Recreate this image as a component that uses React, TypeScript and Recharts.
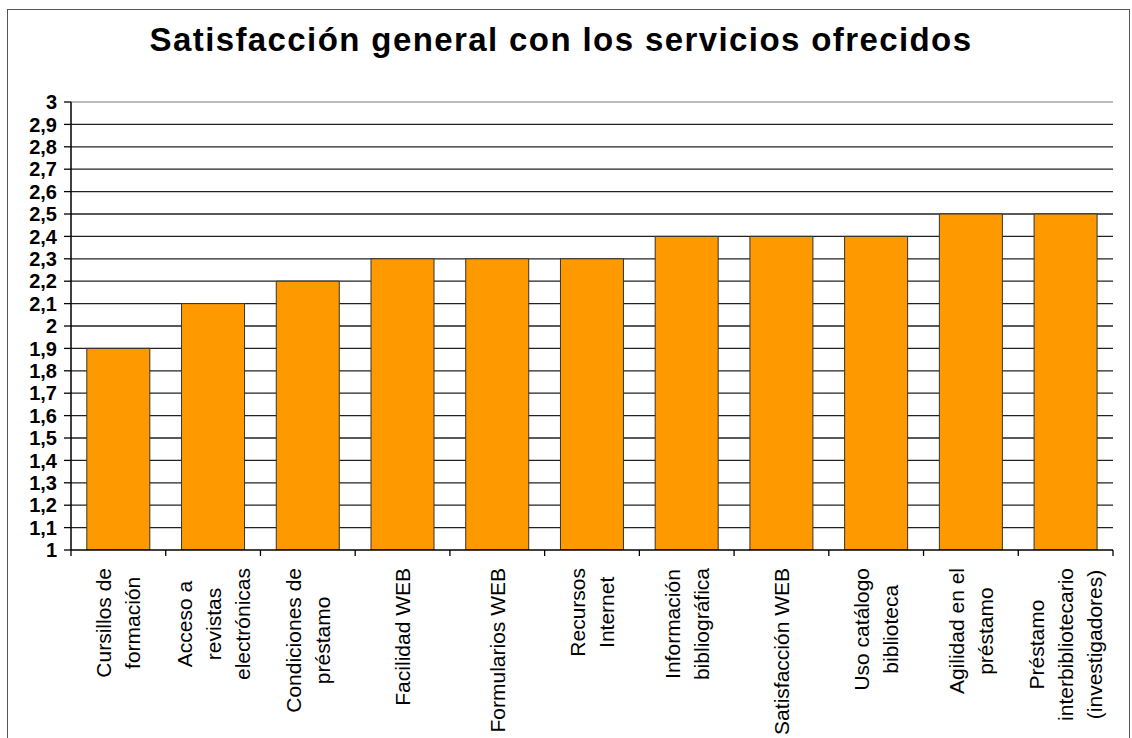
import React from "react";
import { BarChart, Bar, XAxis, YAxis, CartesianGrid, ReferenceLine } from "recharts";

const title = "Satisfacción general con los servicios ofrecidos";

const categories = [
  "Cursillos de\nformación",
  "Acceso a\nrevistas\nelectrónicas",
  "Condiciones de\npréstamo",
  "Facilidad WEB",
  "Formularios WEB",
  "Recursos\nInternet",
  "Información\nbibliográfica",
  "Satisfacción WEB",
  "Uso catálogo\nbiblioteca",
  "Agilidad en el\npréstamo",
  "Préstamo\ninterbibliotecario\n(investigadores)",
];

const values = [1.9, 2.1, 2.2, 2.3, 2.3, 2.3, 2.4, 2.4, 2.4, 2.5, 2.5];

const yTicks = [1, 1.1, 1.2, 1.3, 1.4, 1.5, 1.6, 1.7, 1.8, 1.9, 2, 2.1, 2.2, 2.3, 2.4, 2.5, 2.6, 2.7, 2.8, 2.9, 3];
const gridValues = yTicks.filter((v) => v !== 1 && v !== 3);

const data = categories.map((c, i) => ({ name: c, value: values[i] }));

const W = 1132;
const H = 738;
const MARGIN = { top: 102, right: 19, left: 0, bottom: 0 };
const Y_AXIS_W = 71;
const X_AXIS_H = H - 550;
const PLOT_W = W - MARGIN.left - MARGIN.right - Y_AXIS_W;
const BAND = PLOT_W / categories.length;

const LABEL_FONT = "21px 'Liberation Sans'";
let measureCtx: CanvasRenderingContext2D | null = null;
function measure(t: string): number {
  if (!measureCtx) {
    const c = document.createElement("canvas");
    measureCtx = c.getContext("2d");
  }
  if (!measureCtx) return t.length * 10;
  measureCtx.font = LABEL_FONT;
  return measureCtx.measureText(t).width;
}

const XTick = (props: any) => {
  const { x, y, payload, index } = props;
  const lines: string[] = String(payload.value).split("\n");
  const maxW = Math.max(...lines.map(measure));
  const n = lines.length;
  const spacing = 29;
  const top = 18;
  const left = x - BAND / 2;
  const right = x + BAND / 2;
  return (
    <g>
      <line x1={left} y1={y} x2={left} y2={y + 6} stroke="#000" strokeWidth={1.3} />
      {index === categories.length - 1 && (
        <line x1={right} y1={y} x2={right} y2={y + 6} stroke="#000" strokeWidth={1.3} />
      )}
      <g transform={`translate(${x},${y}) rotate(-90)`}>
        {lines.map((ln, i) => (
          <text
            key={i}
            x={-(top + maxW / 2)}
            y={(i - (n - 1) / 2) * spacing + 7.5}
            textAnchor="middle"
            fontFamily="'Liberation Sans', Arial, sans-serif"
            fontSize={21}
            fill="#000"
          >
            {ln}
          </text>
        ))}
      </g>
    </g>
  );
};

const fmt = (v: number) => String(v).replace(".", ",");

export default function App() {
  return (
    <div
      style={{
        position: "fixed",
        left: 0,
        top: 0,
        width: W,
        height: H,
        overflow: "hidden",
        background: "#fff",
      }}
    >
      <div
        style={{
          position: "absolute",
          left: 7,
          top: 9,
          width: 1123,
          height: 760,
          border: "1.5px solid #555",
          boxSizing: "border-box",
        }}
      />
      <svg style={{ position: "absolute", left: 0, top: 0 }} width={W} height={80}>
        <text
          x={561}
          y={51}
          textAnchor="middle"
          fontFamily="'Liberation Sans', Arial, sans-serif"
          fontWeight="bold"
          fontSize={33}
          letterSpacing={1.4}
          fill="#000"
        >
          {title}
        </text>
      </svg>
      <div style={{ position: "absolute", left: 0, top: 0 }}>
        <BarChart width={W} height={H} data={data} margin={MARGIN} barCategoryGap="16.7%">
          <CartesianGrid
            vertical={false}
            horizontalValues={gridValues}
            stroke="#222"
            strokeWidth={1.3}
          />
          <ReferenceLine y={3} stroke="#a6a6a6" strokeWidth={1.5} />
          <XAxis
            dataKey="name"
            interval={0}
            height={X_AXIS_H}
            tickSize={0}
            tickMargin={0}
            tickLine={false}
            axisLine={{ stroke: "#000", strokeWidth: 1.5 }}
            tick={<XTick />}
          />
          <YAxis
            domain={[1, 3]}
            ticks={yTicks}
            interval={0}
            width={Y_AXIS_W}
            tickSize={7}
            tickMargin={7}
            tickFormatter={fmt}
            axisLine={{ stroke: "#000", strokeWidth: 1.5 }}
            tickLine={{ stroke: "#000", strokeWidth: 1.3 }}
            tick={{
              fill: "#000",
              fontSize: 20,
              fontWeight: "bold",
              fontFamily: "'Liberation Sans', Arial, sans-serif",
            }}
            allowDataOverflow
          />
          <YAxis
            yAxisId="right"
            orientation="right"
            domain={[1, 3]}
            width={0}
            tick={false}
            tickLine={false}
            axisLine={{ stroke: "#a6a6a6", strokeWidth: 1.5 }}
          />
          <Bar
            dataKey="value"
            fill="#FF9900"
            stroke="#333"
            strokeWidth={1}
            isAnimationActive={false}
          />
        </BarChart>
      </div>
    </div>
  );
}
